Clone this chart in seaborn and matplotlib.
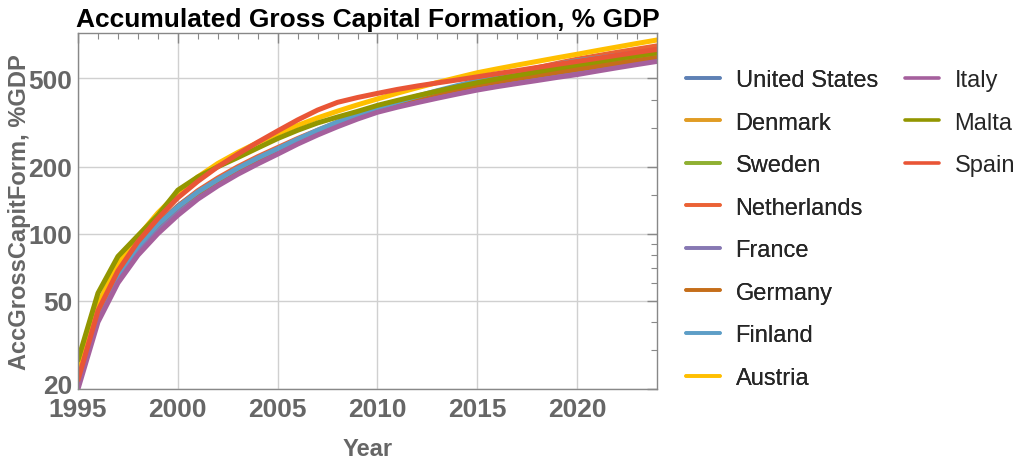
import numpy as np
import pandas as pd
import matplotlib
matplotlib.use('Agg')
import matplotlib.pyplot as plt
import matplotlib.transforms as mtransforms
import seaborn as sns
from matplotlib.lines import Line2D
from matplotlib.ticker import FixedLocator, NullFormatter

sns.set_style("white")
plt.rcParams['font.family'] = ['Liberation Sans', 'DejaVu Sans']

years = list(range(1995, 2025))

countries = ["United States", "Denmark", "Sweden", "Netherlands", "France",
             "Germany", "Finland", "Austria", "Italy", "Malta", "Spain"]

colors = ["#5E81B5", "#E19C24", "#8FB032", "#EB6235", "#8778B3",
          "#C56E1A", "#5D9EC7", "#FFBF00", "#A5609D", "#929600", "#E95536"]

united_states = [21, 43, 65, 87, 110, 133, 155, 176, 197, 219, 241, 265, 290, 315, 338,
                 360, 382, 404, 426, 448, 470, 490, 510, 530, 550, 570, 590, 610, 630, 650]
denmark = [21, 43, 65, 86, 108, 130, 152, 173, 194, 215, 237, 261, 286, 312, 336,
           358, 379, 399, 419, 439, 460, 479, 499, 519, 539, 560, 580, 600, 620, 640]
sweden = [21, 43, 64, 85, 107, 129, 150, 171, 192, 213, 236, 260, 285, 310, 334,
          356, 378, 400, 422, 444, 466, 487, 508, 528, 548, 568, 589, 610, 631, 652]
netherlands = [22, 44, 66, 88, 110, 133, 156, 178, 200, 222, 244, 268, 292, 317, 340,
               363, 387, 411, 435, 459, 483, 508, 533, 558, 584, 610, 632, 655, 677, 700]
france = [21, 42, 63, 83, 104, 125, 147, 168, 190, 212, 234, 258, 283, 308, 332,
          356, 376, 395, 414, 433, 452, 468, 484, 500, 516, 532, 551, 570, 590, 610]
germany = [22, 45, 67, 89, 110, 132, 153, 174, 195, 216, 238, 263, 289, 316, 343,
           370, 390, 409, 428, 447, 466, 483, 500, 516, 533, 550, 567, 584, 602, 620]
finland = [22, 44, 66, 88, 110, 132, 154, 175, 197, 219, 241, 266, 292, 318, 344,
           368, 392, 416, 440, 464, 488, 511, 533, 555, 578, 600, 617, 634, 651, 668]
austria = [24, 48, 73, 97, 124, 152, 180, 207, 232, 257, 282, 307, 332, 356, 380,
           404, 429, 454, 479, 504, 530, 552, 574, 596, 619, 642, 667, 692, 718, 744]
italy = [20, 40, 60, 80, 100, 121, 143, 164, 185, 206, 228, 253, 278, 303, 328,
         352, 371, 389, 407, 425, 443, 459, 474, 489, 505, 520, 539, 558, 577, 596]
malta = [27, 54, 79, 98, 121, 157, 180, 200, 220, 243, 268, 292, 315, 335, 355,
         378, 398, 418, 438, 458, 478, 497, 516, 535, 555, 575, 594, 614, 633, 652]
spain = [22, 45, 68, 92, 117, 145, 172, 200, 228, 258, 290, 325, 360, 390, 410,
         428, 446, 462, 477, 492, 508, 525, 542, 560, 578, 596, 615, 635, 655, 675]

series = [united_states, denmark, sweden, netherlands, france, germany,
          finland, austria, italy, malta, spain]

df = pd.DataFrame({
    "Year": np.tile(years, len(countries)),
    "Value": np.concatenate(series),
    "Country": np.repeat(countries, len(years)),
})
palette = dict(zip(countries, colors))

fig = plt.figure(figsize=(10.24, 4.64), dpi=100)
ax = fig.add_axes([78 / 1024, 1 - 390 / 464, (657 - 78) / 1024, (390 - 34) / 464])

sns.lineplot(data=df, x="Year", y="Value", hue="Country", hue_order=countries,
             palette=palette, linewidth=3.6, legend=False, ax=ax)

ax.set_yscale("log")
ax.set_xlim(1995, 2024)
ax.set_ylim(20, 800)

gray = "#666666"
ax.set_xticks([1995, 2000, 2005, 2010, 2015, 2020])
ax.xaxis.set_minor_locator(FixedLocator(years))
ax.set_yticks([20, 50, 100, 200, 500])
ax.set_yticklabels(["20", "50", "100", "200", "500"])
ax.yaxis.set_minor_locator(FixedLocator([30, 40, 60, 70, 80, 90, 150, 300, 400, 600, 700]))
ax.yaxis.set_minor_formatter(NullFormatter())

ax.tick_params(which="both", direction="in", top=True, right=True, color="#888888")
ax.tick_params(which="major", length=7, width=1, labelsize=19, labelcolor=gray)
ax.tick_params(axis="x", which="major", pad=6)
ax.tick_params(axis="y", which="major", pad=4)
ax.tick_params(which="minor", length=4, width=0.8)
for lab in ax.get_xticklabels() + ax.get_yticklabels():
    lab.set_fontweight("bold")

# nudge the lowest y label up a little so it does not sit on "1995"
lab20 = ax.yaxis.get_major_ticks()[0].label1
lab20.set_transform(lab20.get_transform() + mtransforms.ScaledTranslation(0, 4 / 72, fig.dpi_scale_trans))

ax.grid(True, which="major", color="#d0d0d0", linewidth=1)
for sp in ax.spines.values():
    sp.set_color("#888888")
    sp.set_linewidth(1)

ax.set_xlabel("Year", fontsize=17, fontweight="bold", color=gray, labelpad=11)
ax.set_ylabel("AccGrossCapitForm, %GDP", fontsize=17, fontweight="bold", color=gray)
ax.yaxis.set_label_coords(-(78 - 31) / 579, 0.5)
ax.set_title("Accumulated Gross Capital Formation, % GDP", fontsize=19,
             fontweight="bold", color="black", pad=5)

# legend in two columns: 8 + 3
handles = [Line2D([], [], color=c, linewidth=2.6) for c in colors]
leg_kw = dict(loc="upper left", frameon=False, fontsize=17, handlelength=1.45,
              handletextpad=0.65, labelspacing=0.87, borderaxespad=0, borderpad=0)
leg1 = fig.legend(handles[:8], countries[:8], bbox_to_anchor=(686 / 1024, 1 - 70 / 464), **leg_kw)
fig.legend(handles[8:], countries[8:], bbox_to_anchor=(905 / 1024, 1 - 70 / 464), **leg_kw)
fig.add_artist(leg1)

fig.savefig("out.png", dpi=100)
